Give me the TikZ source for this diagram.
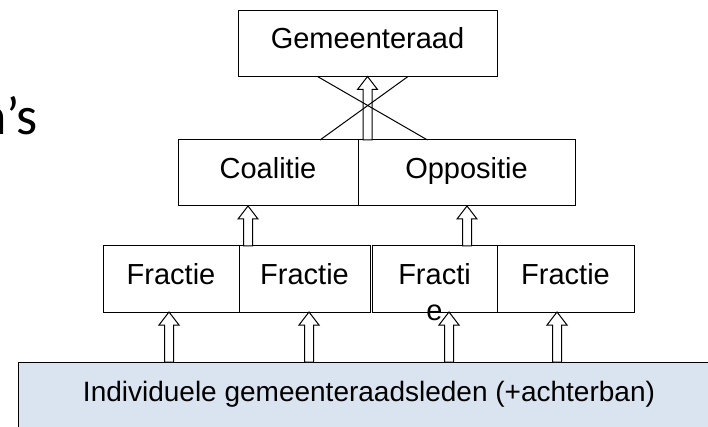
\documentclass[tikz,border=0pt]{standalone}
\usepackage{fontspec}
\setmainfont{Liberation Sans}
\newfontfamily\slidefont{Carlito}
\usetikzlibrary{positioning,calc}
\definecolor{ledenfill}{HTML}{DAE3F0}

\begin{document}
\begin{tikzpicture}[x=1pt, y=-1pt, node distance=0pt,
    box/.style={rectangle, draw, line width=1pt, outer sep=0pt, minimum height=66pt,
        font=\fontsize{29}{36}\selectfont, text height=21pt, text depth=10pt},
    hollow/.style={draw, fill=white, line width=1pt, to path={
        let \p1=(\tikztostart), \p2=(\tikztotarget) in
        (\x2+#1pt-4.5pt,\y1) -- (\x2+#1pt-4.5pt,\y2-13pt) -- (\x2+#1pt-10pt,\y2-13pt)
        -- (\x2+#1pt,\y2) -- (\x2+#1pt+10pt,\y2-13pt) -- (\x2+#1pt+4.5pt,\y2-13pt)
        -- (\x2+#1pt+4.5pt,\y1) -- cycle}},
    hollow/.default=0]

    \path[use as bounding box, clip] (0,0) rectangle (708,427);

    \node[anchor=base east, inner sep=0pt, font=\slidefont\fontsize{54}{60}\selectfont] (title) at (38,135) {n’s};

    % levels, top to bottom
    \node[box, minimum width=259pt] (gem) at (367.5,43.5) {Gemeenteraad};
    \node[box, minimum width=180pt] (coal) at (268,173) {Coalitie};
    \node[box, minimum width=217pt, right=of coal] (opp) {Oppositie};
    \node[box, minimum width=136pt] (f1) at (171,279) {Fractie};
    \node[box, minimum width=131pt, right=of f1] (f2) {Fractie};
    \node[box, minimum width=125pt, right=2pt of f2] (f3) {\smash{\begin{tabular}[t]{@{}c@{}}Fracti\\e\end{tabular}}};
    \node[box, minimum width=137pt, right=of f3] (f4) {Fractie};
    \node[box, fill=ledenfill, minimum width=702pt, minimum height=68pt,
        font=\fontsize{28}{34}\selectfont, text height=20pt, text depth=9.7pt] (leden) at (369,396) {Individuele gemeenteraadsleden (+achterban)};

    % upward arrows
    \draw[hollow=-2] (leden.north) to (f1.south);
    \draw[hollow=4.5] (leden.north) to (f2.south);
    \draw[hollow=14.5] (leden.north) to (f3.south);
    \draw[hollow=-8.5] (leden.north) to (f4.south);
    \draw[hollow=-20] (f1.north) to (coal.south);
    \draw[hollow=0.5] (f3.north) to (opp.south);
    \draw[hollow=0] (coal.north) to (gem.south);

    % crossing lines
    \draw[line width=1pt] ($(gem.south)+(-50,0)$) -- ($(opp.north)+(-39,0)$);
    \draw[line width=1pt] ($(gem.south)+(40.5,0)$) -- ($(coal.north)+(52,0)$);
\end{tikzpicture}
\end{document}
